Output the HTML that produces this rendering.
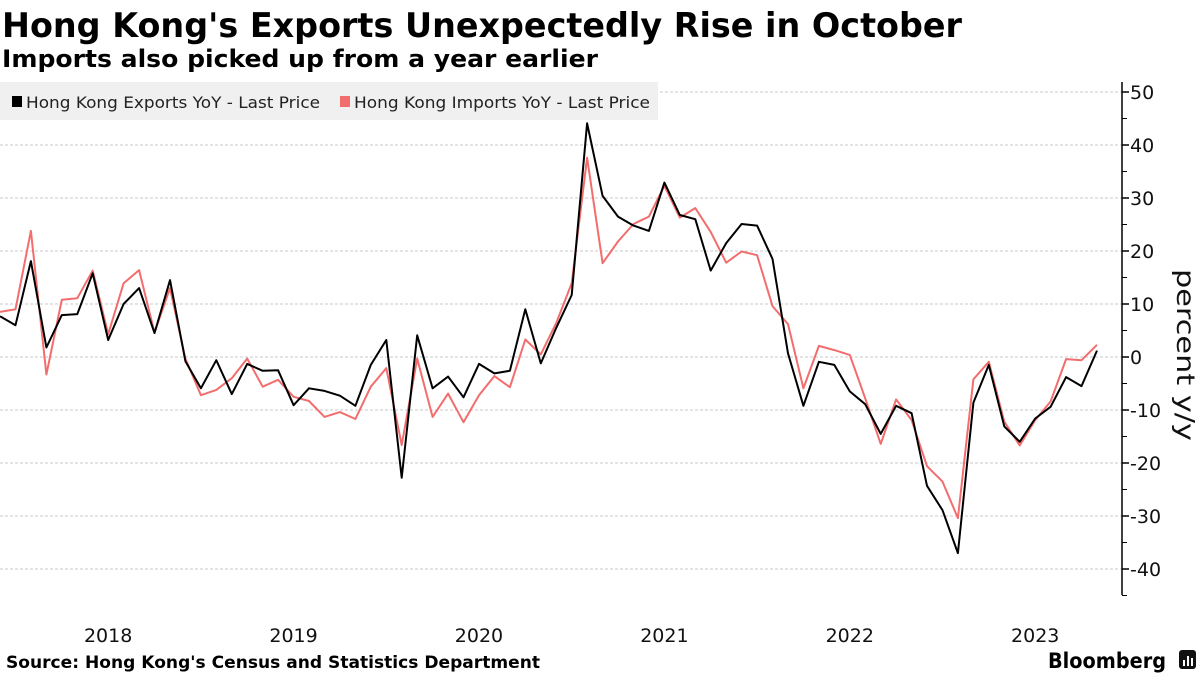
<!DOCTYPE html>
<html><head><meta charset="utf-8"><style>
html,body{margin:0;padding:0;background:#fff;}
svg{display:block;font-family:"DejaVu Sans","Liberation Sans",sans-serif;}
</style></head><body>
<svg id="chart" width="1200" height="675" viewBox="0 0 1200 675" xmlns="http://www.w3.org/2000/svg">
<text x="2" y="37" font-size="34" font-weight="bold" textLength="960" lengthAdjust="spacingAndGlyphs">Hong Kong's Exports Unexpectedly Rise in October</text>
<text x="2" y="67" font-size="24" font-weight="bold" textLength="596" lengthAdjust="spacingAndGlyphs">Imports also picked up from a year earlier</text>
<g id="grid"></g>
<g id="axis"></g>
<g id="xaxis"></g>
<g id="series"></g>
<g>
<rect x="0" y="82" width="658" height="38" fill="#f0f0f0"/>
<g>
<rect x="12" y="96" width="10" height="11" fill="#000"/>
<text x="26" y="108" font-size="16" fill="#222" textLength="294" lengthAdjust="spacingAndGlyphs">Hong Kong Exports YoY - Last Price</text>
</g>
<g>
<rect x="340" y="96" width="10" height="11" fill="#f26d6d"/>
<text x="354" y="108" font-size="16" fill="#222" textLength="296" lengthAdjust="spacingAndGlyphs">Hong Kong Imports YoY - Last Price</text>
</g>
</g>
<text transform="translate(1177,355) rotate(90)" text-anchor="middle" font-size="25" fill="#111" textLength="172" lengthAdjust="spacingAndGlyphs">percent y/y</text>
<text x="6" y="668" font-size="17" font-weight="bold" textLength="534" lengthAdjust="spacingAndGlyphs">Source: Hong Kong's Census and Statistics Department</text>
<text x="1048" y="668" font-size="21" font-weight="bold" textLength="118" lengthAdjust="spacingAndGlyphs">Bloomberg</text>
<g>
<rect x="1179" y="650" width="17" height="19" rx="3" fill="#111"/>
<rect x="1183" y="660" width="2" height="6" fill="#fff"/><rect x="1187" y="656" width="2" height="10" fill="#fff"/><rect x="1191" y="658" width="2" height="8" fill="#fff"/>
</g>
</svg>
<script>
const exportsYoY=[7.7,6.0,18.1,1.8,7.9,8.1,15.8,3.2,10.0,13.0,4.5,14.5,-0.8,-5.9,-0.6,-7.0,-1.3,-2.6,-2.5,-9.1,-5.9,-6.4,-7.3,-9.2,-1.5,3.2,-22.8,4.1,-5.9,-3.7,-7.6,-1.3,-3.1,-2.6,9.0,-1.2,5.5,11.7,44.1,30.4,26.5,24.8,23.8,32.9,26.8,26.0,16.3,21.5,25.1,24.8,18.5,0.7,-9.2,-0.9,-1.5,-6.5,-8.9,-14.5,-9.2,-10.6,-24.3,-28.9,-37.0,-8.6,-1.5,-13.1,-16.0,-11.6,-9.4,-3.8,-5.5,1.2];
const importsYoY=[8.5,9.0,23.8,-3.3,10.8,11.1,16.3,4.3,13.9,16.4,4.6,13.0,-0.3,-7.2,-6.2,-4.0,-0.3,-5.6,-4.3,-7.5,-8.3,-11.3,-10.4,-11.7,-5.6,-2.1,-16.6,-0.3,-11.3,-6.9,-12.3,-7.2,-3.6,-5.7,3.3,0.5,6.4,13.9,37.6,17.7,21.8,25.1,26.5,32.3,26.3,28.1,23.6,17.8,19.9,19.2,9.6,6.2,-5.9,2.1,1.3,0.4,-7.8,-16.4,-8.0,-11.9,-20.6,-23.5,-30.4,-4.2,-0.9,-12.2,-16.7,-11.9,-8.4,-0.4,-0.6,2.3];
const yTicks=[50,40,30,20,10,0,-10,-20,-30,-40];
const yearLabels=["2018","2019","2020","2021","2022","2023"];
const yearLabelIndex=[7,19,31,43,55,67];

const NS="http://www.w3.org/2000/svg";
const x0=0,x1=1097,axisX=1122;
function xPos(i){return x0+(x1-x0)*i/(exportsYoY.length-1);}
function yPos(v){return 357-v*5.3;}
function mk(tag,attrs,parent){const e=document.createElementNS(NS,tag);for(const k in attrs)e.setAttribute(k,attrs[k]);parent.appendChild(e);return e;}
const grid=document.getElementById('grid'),axis=document.getElementById('axis'),xaxis=document.getElementById('xaxis'),series=document.getElementById('series');
yTicks.forEach(v=>{
  const g=mk('line',{x1:0,x2:axisX,y1:yPos(v),y2:yPos(v),stroke:'#c8c8c8','stroke-width':1,'stroke-dasharray':'3,2'},grid);
  
  
  const t=mk('line',{x1:axisX,x2:axisX+7,y1:yPos(v),y2:yPos(v),stroke:'#000','stroke-width':1.5},axis);
  
  
  const m=mk('line',{x1:axisX,x2:axisX+5,y1:yPos(v-5),y2:yPos(v-5),stroke:'#000','stroke-width':1},axis);
  
  
  const lb=mk('text',{x:axisX+8,y:yPos(v)+7,'font-size':19,fill:'#111'},axis);
  lb.textContent=v;
  
  
});
const al=mk('line',{x1:axisX,x2:axisX,y1:82,y2:595,stroke:'#000','stroke-width':1.5},axis);


yearLabels.forEach((s,k)=>{
  const t=mk('text',{x:xPos(yearLabelIndex[k]),y:642,'text-anchor':'middle','font-size':19,fill:'#111'},xaxis);
  t.textContent=s;
  
  
});
function line(vals,color,name){
  const d=vals.map((v,i)=>(i?'L':'M')+xPos(i).toFixed(1)+','+yPos(v).toFixed(1)).join('');
  const p=mk('path',{d:d,fill:'none',stroke:color,'stroke-width':2,'stroke-linejoin':'round'},series);
  
  
}
line(importsYoY,'#f26d6d','imports-line');
line(exportsYoY,'#000','exports-line');
</script>
</body></html>
